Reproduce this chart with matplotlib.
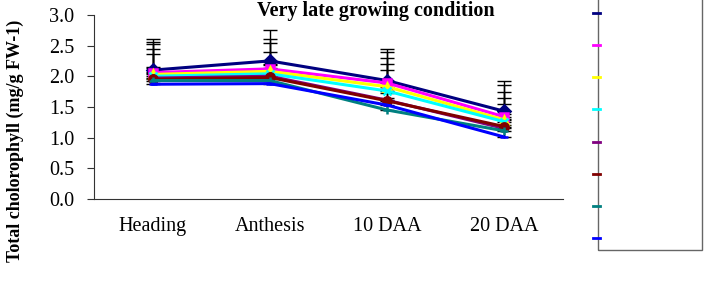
import matplotlib
matplotlib.use('Agg')
import matplotlib.pyplot as plt
from matplotlib.lines import Line2D
from matplotlib.patches import Rectangle
import numpy as np

plt.rcParams['font.family'] = ['Liberation Serif', 'DejaVu Serif']

stages = ["Heading", "Anthesis", "10 DAA", "20 DAA"]

# mean values, one list per series (top to bottom in the legend)
navy = [2.10, 2.25, 1.93, 1.43]
magenta = [2.06, 2.12, 1.89, 1.34]
yellow = [2.03, 2.08, 1.83, 1.29]
cyan = [2.00, 2.04, 1.76, 1.26]
purple = [1.97, 2.00, 1.61, 1.15]
maroon = [1.95, 1.98, 1.60, 1.18]
teal = [1.93, 1.93, 1.45, 1.11]
blue = [1.87, 1.88, 1.53, 1.01]

# upper error bars
navy_err = [0.50, 0.50, 0.52, 0.49]
magenta_err = [0.50, 0.48, 0.51, 0.51]
yellow_err = [0.49, 0.47, 0.47, 0.46]
cyan_err = [0.45, 0.36, 0.44, 0.39]
purple_err = [0.40, 0.20, 0.49, 0.40]
maroon_err = [0.20, 0.20, 0.20, 0.20]
teal_err = [0.20, 0.20, 0.20, 0.20]
blue_err = [0.20, 0.20, 0.20, 0.20]

series = [
    (navy, navy_err, '#000080', 'D'),
    (magenta, magenta_err, '#FF00FF', 's'),
    (yellow, yellow_err, '#FFFF00', '^'),
    (cyan, cyan_err, '#00FFFF', 'x'),
    (purple, purple_err, '#800080', '*'),
    (maroon, maroon_err, '#800000', 'o'),
    (teal, teal_err, '#008080', '+'),
    (blue, blue_err, '#0000FF', '_'),
]

fig = plt.figure(figsize=(7.07, 2.81), dpi=100)
ax = fig.add_axes([0.133, 0.292, 0.663, 0.655])
x = np.arange(len(stages))

# error bars first (black, upward only)
for vals, err, col, mk in series:
    ax.errorbar(x, vals, yerr=[np.zeros(len(err)), err], fmt='none',
                ecolor='black', elinewidth=1, capsize=5, capthick=1, zorder=1)

for vals, err, col, mk in series:
    ax.plot(x, vals, color=col, lw=2.2, marker=mk, markersize=6,
            markeredgewidth=1.8, zorder=2)

ax.set_xlim(-0.5, 3.5)
ax.set_ylim(0, 3.0)
ax.set_yticks(np.arange(0, 3.01, 0.5))
ax.set_yticklabels([f"{v:.1f}" for v in np.arange(0, 3.01, 0.5)], fontsize=14.5)
ax.set_xticks(x)
ax.set_xticklabels(stages, fontsize=14.5)
ax.tick_params(axis='x', length=0, pad=13)
ax.tick_params(axis='y', length=5, direction='out', color='#333333', pad=9)
ax.spines['top'].set_visible(False)
ax.spines['right'].set_visible(False)
ax.spines['left'].set_color('#333333')
ax.spines['bottom'].set_color('#333333')

fig.text(0.532, 0.962, "Very late growing condition", ha='center', va='center',
         fontsize=14.5, fontweight='bold')
fig.text(0.022, 0.5, "Total cholorophyll (mg/g FW-1)", rotation=90,
         ha='center', va='center', fontsize=13, fontweight='bold')

# cropped legend box on the right
fig.add_artist(Rectangle((0.846, 0.110), 0.147, 0.95, transform=fig.transFigure,
                         fill=False, edgecolor='#666666', lw=1))
leg_y = [13, 45, 77, 109, 142, 174, 206, 238]
for py, (vals, err, col, mk) in zip(leg_y, series):
    yf = 1 - py / 281
    fig.add_artist(Line2D([593 / 707, 600 / 707], [yf, yf], color=col, lw=2,
                          transform=fig.transFigure))

fig.savefig("out.png", dpi=100)
